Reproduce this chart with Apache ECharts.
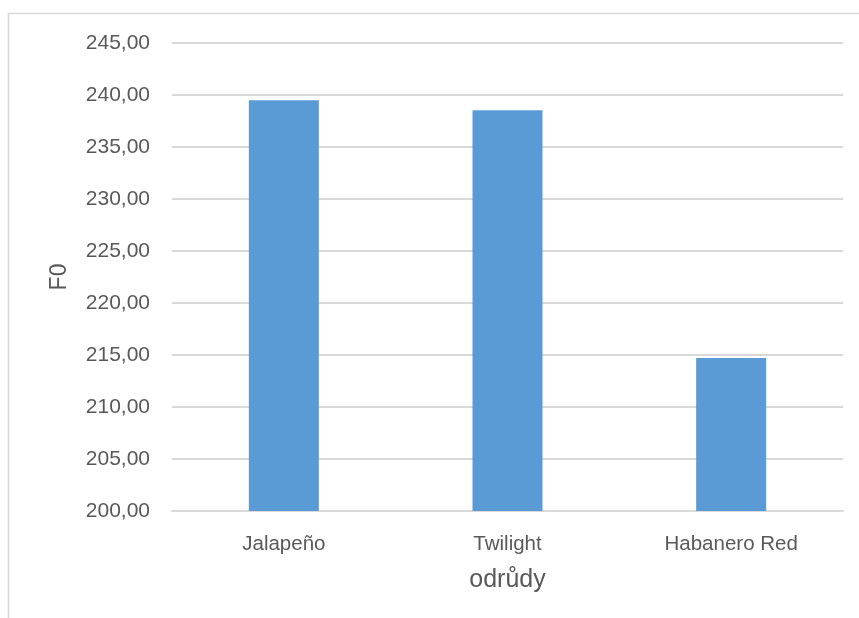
<!DOCTYPE html>
<html>
<head>
<meta charset="utf-8">
<script src="https://cdn.jsdelivr.net/npm/echarts@6/dist/echarts.min.js"></script>
<style>
  html, body { margin: 0; padding: 0; background: #fff; }
  #chart { width: 859px; height: 618px; }
</style>
</head>
<body>
<div id="chart"></div>
<script>
// Pepper varieties and their mean F0
const categories = ['Jalapeño', 'Twilight', 'Habanero Red'];
const f0Values = [239.49, 238.53, 214.71];
const yMin = 200;
const yMax = 245;
const yStep = 5;

const textColor = '#595959';
const fontFamily = '"Liberation Sans", Arial, sans-serif';

const chart = echarts.init(document.getElementById('chart'), null, { renderer: 'canvas' });
chart.setOption({
  animation: false,
  backgroundColor: '#ffffff',
  graphic: [{
    type: 'rect',
    shape: { x: 8.5, y: 13.5, width: 900, height: 700 },
    style: { fill: 'none', stroke: '#D9D9D9', lineWidth: 1.5 },
    silent: true
  }],
  grid: { left: 172, right: 16, top: 43, bottom: 107 },
  xAxis: {
    type: 'category',
    data: categories,
    name: 'odrůdy',
    nameLocation: 'middle',
    nameGap: 57,
    nameTextStyle: { color: textColor, fontSize: 25, fontFamily: fontFamily },
    axisLine: { show: true, lineStyle: { color: '#D9D9D9', width: 2 } },
    axisTick: { show: false },
    axisLabel: { color: textColor, fontSize: 20.5, fontFamily: fontFamily, margin: 23 },
    splitLine: { show: false }
  },
  yAxis: {
    type: 'value',
    min: yMin,
    max: yMax,
    interval: yStep,
    name: 'F0',
    nameLocation: 'middle',
    nameGap: 101,
    nameTextStyle: { color: textColor, fontSize: 23, fontFamily: fontFamily },
    axisLine: { show: false },
    axisTick: { show: false },
    axisLabel: {
      color: textColor, fontSize: 21, fontFamily: fontFamily, margin: 22,
      formatter: v => v.toFixed(2).replace('.', ',')
    },
    splitLine: { lineStyle: { color: '#D9D9D9', width: 2 } }
  },
  series: [{
    type: 'bar',
    data: f0Values,
    barWidth: 70,
    itemStyle: { color: '#5B9BD5' }
  }]
});
</script>
</body>
</html>
